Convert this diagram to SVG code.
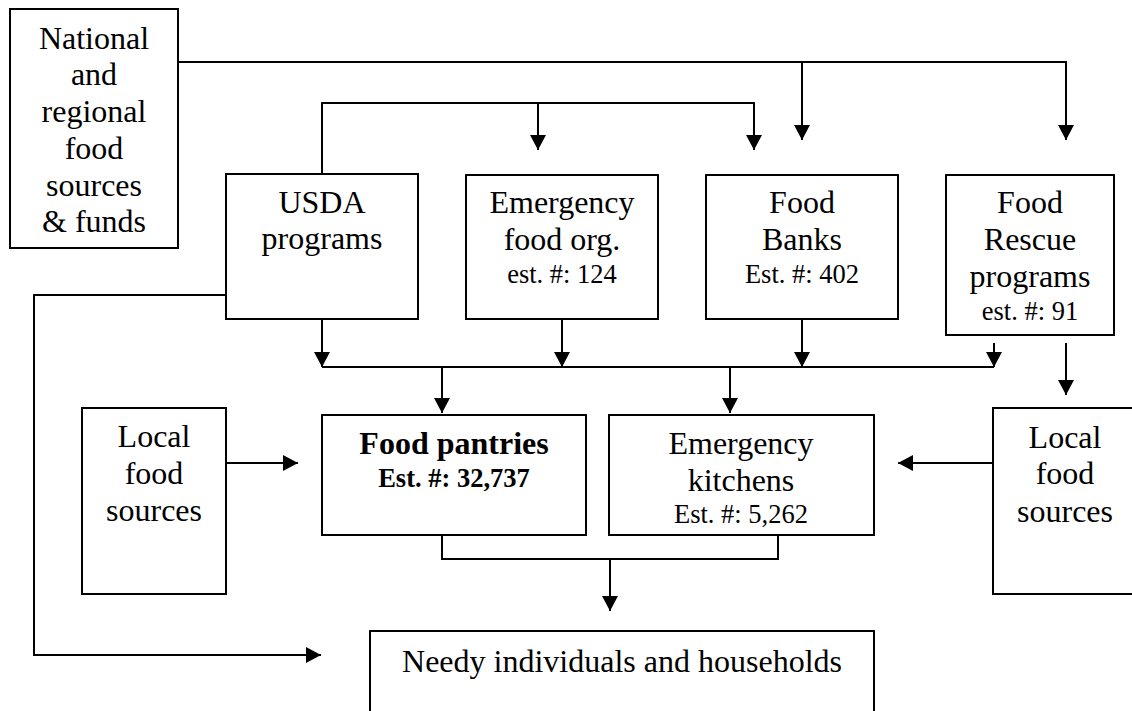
<svg xmlns="http://www.w3.org/2000/svg" width="1132" height="711" viewBox="0 0 1132 711">
<style>
.box{fill:#fff;stroke:#000;stroke-width:2}
.ln{fill:none;stroke:#000;stroke-width:2}
text{font-family:"Liberation Serif","Times New Roman",serif;fill:#000;text-anchor:middle;font-size:32px}
.s{font-size:26.5px}
.b{font-weight:bold}
</style>
<defs>
<marker id="ah" markerUnits="userSpaceOnUse" markerWidth="17" markerHeight="17" refX="15" refY="8" orient="auto">
<path d="M0,0 L15,8 L0,16 z" fill="#000"/>
</marker>
</defs>
<rect width="1132" height="711" fill="#fff"/>
<g id="connectors">
<path class="ln" d="M178,62 H1066 V140" marker-end="url(#ah)"/>
<path class="ln" d="M802,62 V140" marker-end="url(#ah)"/>
<path class="ln" d="M322,174 V103 H754 V150" marker-end="url(#ah)"/>
<path class="ln" d="M538,103 V150" marker-end="url(#ah)"/>
<path class="ln" d="M322,367 H994"/>
<path class="ln" d="M322,319 V367" marker-end="url(#ah)"/>
<path class="ln" d="M562,319 V367" marker-end="url(#ah)"/>
<path class="ln" d="M802,319 V367" marker-end="url(#ah)"/>
<path class="ln" d="M994,343 V367" marker-end="url(#ah)"/>
<path class="ln" d="M1066,343 V395" marker-end="url(#ah)"/>
<path class="ln" d="M442,367 V413" marker-end="url(#ah)"/>
<path class="ln" d="M730,367 V413" marker-end="url(#ah)"/>
<path class="ln" d="M226,463 H298" marker-end="url(#ah)"/>
<path class="ln" d="M993,463 H898" marker-end="url(#ah)"/>
<path class="ln" d="M442,535 V559 H778 V535"/>
<path class="ln" d="M610,559 V611" marker-end="url(#ah)"/>
<path class="ln" d="M226,295 H34 V655 H321" marker-end="url(#ah)"/>
</g>
<g id="national">
<rect class="box" x="10" y="9" width="168" height="239"/>
<text x="94" y="49">National</text>
<text x="94" y="85">and</text>
<text x="94" y="122">regional</text>
<text x="94" y="159">food</text>
<text x="94" y="196">sources</text>
<text x="94" y="232">&amp; funds</text>
</g>
<g id="usda">
<rect class="box" x="226" y="174" width="192" height="145"/>
<text x="322" y="213">USDA</text>
<text x="322" y="249">programs</text>
</g>
<g id="emergency-org">
<rect class="box" x="466" y="175" width="192" height="144"/>
<text x="562" y="213">Emergency</text>
<text x="562" y="250">food org.</text>
<text class="s" x="562" y="283">est. #: 124</text>
</g>
<g id="food-banks">
<rect class="box" x="706" y="175" width="192" height="144"/>
<text x="802" y="213">Food</text>
<text x="802" y="250">Banks</text>
<text class="s" x="802" y="283">Est. #: 402</text>
</g>
<g id="food-rescue">
<rect class="box" x="946" y="175" width="168" height="160"/>
<text x="1030" y="213">Food</text>
<text x="1030" y="250">Rescue</text>
<text x="1030" y="287">programs</text>
<text class="s" x="1030" y="320">est. #: 91</text>
</g>
<g id="local-left">
<rect class="box" x="82" y="408" width="144" height="186"/>
<text x="154" y="447">Local</text>
<text x="154" y="484">food</text>
<text x="154" y="521">sources</text>
</g>
<g id="food-pantries">
<rect class="box" x="322" y="415" width="264" height="120"/>
<text class="b" x="454" y="454">Food pantries</text>
<text class="b s" x="454" y="487">Est. #: 32,737</text>
</g>
<g id="kitchens">
<rect class="box" x="609" y="415" width="265" height="120"/>
<text x="741" y="454">Emergency</text>
<text x="741" y="491">kitchens</text>
<text class="s" x="741" y="523">Est. #: 5,262</text>
</g>
<g id="local-right">
<rect class="box" x="993" y="408" width="144" height="186"/>
<text x="1065" y="448">Local</text>
<text x="1065" y="484">food</text>
<text x="1065" y="522">sources</text>
</g>
<g id="needy">
<rect class="box" x="370" y="631" width="504" height="100"/>
<text x="622" y="672">Needy individuals and households</text>
</g>
</svg>
